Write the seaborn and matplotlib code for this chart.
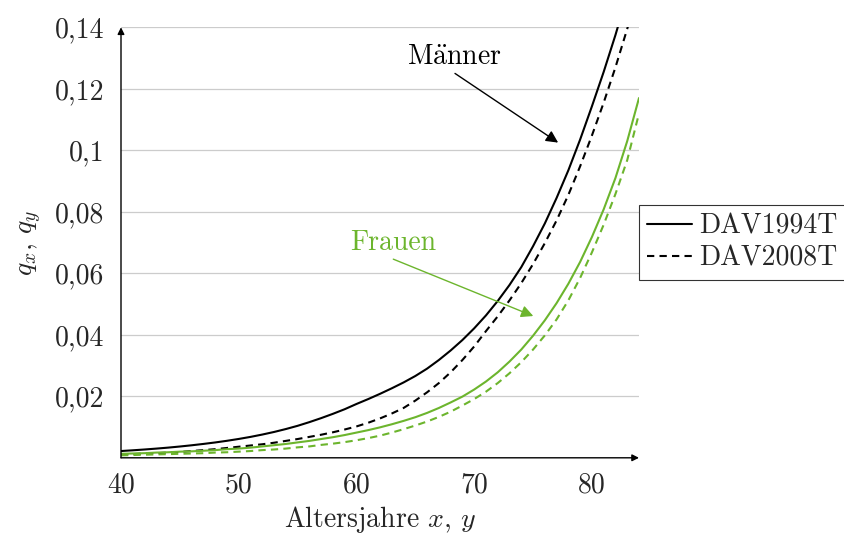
import numpy as np
import pandas as pd
import seaborn as sns
import matplotlib
matplotlib.use("Agg")
import matplotlib.pyplot as plt
from matplotlib.lines import Line2D

# Sterbewahrscheinlichkeiten q (Alter 40 bis 84)
alter = list(range(40, 85))

maenner_1994 = [0.00220, 0.00244, 0.00270, 0.00299, 0.00331, 0.00367, 0.00407, 0.00451, 0.00499, 0.00553,
                0.00613, 0.00680, 0.00756, 0.00840, 0.00935, 0.01040, 0.01160, 0.01290, 0.01430, 0.01580,
                0.01750, 0.01910, 0.02080, 0.02260, 0.02450, 0.02660, 0.02900, 0.03180, 0.03490, 0.03830,
                0.04210, 0.04630, 0.05100, 0.05620, 0.06200, 0.06880, 0.07620, 0.08450, 0.09350, 0.10350,
                0.11430, 0.12550, 0.13750, 0.15050, 0.16400]

maenner_2008 = [0.0011, 0.0012, 0.0014, 0.0015, 0.0017, 0.0019, 0.0022, 0.0025, 0.0028, 0.0032,
                0.0036, 0.0040, 0.0044, 0.0049, 0.0055, 0.0061, 0.0068, 0.0075, 0.0083, 0.0092,
                0.0102, 0.0114, 0.0128, 0.0144, 0.0162, 0.0186, 0.0213, 0.0243, 0.0278, 0.0318,
                0.0362, 0.0412, 0.0460, 0.0512, 0.0568, 0.0630, 0.0698, 0.0772, 0.0855, 0.0948,
                0.1048, 0.1155, 0.1270, 0.1395, 0.1530]

frauen_1994 = [0.0013, 0.0014, 0.0015, 0.0017, 0.0018, 0.0020, 0.0021, 0.0023, 0.0025, 0.0028,
               0.0030, 0.0033, 0.0037, 0.0041, 0.0045, 0.0050, 0.0055, 0.0061, 0.0067, 0.0074,
               0.0082, 0.0090, 0.0099, 0.0109, 0.0120, 0.0132, 0.0146, 0.0162, 0.0180, 0.0199,
               0.0222, 0.0248, 0.0278, 0.0313, 0.0352, 0.0397, 0.0447, 0.0503, 0.0566, 0.0637,
               0.0718, 0.0808, 0.0910, 0.1030, 0.1170]

frauen_2008 = [0.0008, 0.0009, 0.0010, 0.0011, 0.0012, 0.0013, 0.0014, 0.0015, 0.0017, 0.0018,
               0.0020, 0.0022, 0.0025, 0.0027, 0.0030, 0.0034, 0.0037, 0.0042, 0.0046, 0.0051,
               0.0057, 0.0064, 0.0072, 0.0082, 0.0093, 0.0105, 0.0118, 0.0133, 0.0150, 0.0170,
               0.0191, 0.0215, 0.0243, 0.0275, 0.0311, 0.0352, 0.0398, 0.0450, 0.0512, 0.0585,
               0.0668, 0.0758, 0.0858, 0.0968, 0.1120]

tafeln = ["DAV1994T", "DAV2008T"]
x_ticks = [40, 50, 60, 70, 80]
y_ticks = [0.02, 0.04, 0.06, 0.08, 0.10, 0.12, 0.14]
y_tick_labels = ["0,02", "0,04", "0,06", "0,08", "0,1", "0,12", "0,14"]

GRUEN = "#6cb52d"

frames = []
for geschlecht, tafel, werte in [("Männer", "DAV1994T", maenner_1994),
                                 ("Männer", "DAV2008T", maenner_2008),
                                 ("Frauen", "DAV1994T", frauen_1994),
                                 ("Frauen", "DAV2008T", frauen_2008)]:
    frames.append(pd.DataFrame({"alter": alter, "q": werte,
                                "geschlecht": geschlecht, "tafel": tafel}))
df = pd.concat(frames, ignore_index=True)

sns.set_style("white")
plt.rcParams["font.family"] = ["cmr10", "DejaVu Serif"]
plt.rcParams["mathtext.fontset"] = "cm"
plt.rcParams["axes.formatter.use_mathtext"] = True
FS = 20

fig = plt.figure(figsize=(8.45, 5.36), dpi=100)
ax = fig.add_axes([121 / 845, 1 - 457.8 / 536, 518 / 845, 430.5 / 536])

dash_pattern = (3.5, 2.5)
sns.lineplot(data=df, x="alter", y="q", hue="geschlecht", style="tafel",
             palette={"Männer": "black", "Frauen": GRUEN},
             dashes={"DAV1994T": "", "DAV2008T": dash_pattern},
             linewidth=1.5, legend=False, ax=ax, zorder=3)

ax.set_xlim(40, 84)
ax.set_ylim(0, 0.14)

ax.set_xticks(x_ticks)
ax.set_xticklabels([str(t) for t in x_ticks])
ax.set_yticks(y_ticks)
ax.set_yticklabels(y_tick_labels)
ax.tick_params(axis="both", direction="inout", length=8, width=0.8,
               color="#999999", labelsize=FS, pad=6)
ax.tick_params(axis="y", pad=8)

ax.yaxis.grid(True, color="#cccccc", linewidth=0.9, zorder=0)
ax.xaxis.grid(False)
for s in ax.spines.values():
    s.set_visible(False)

# Achsen mit Pfeilspitzen
arrow_kw = dict(arrowstyle="-|>", mutation_scale=10, lw=1.0, color="black",
                shrinkA=0, shrinkB=0)
ax.annotate("", xy=(1, 0), xytext=(0, 0), xycoords="axes fraction",
            textcoords="axes fraction", arrowprops=arrow_kw, zorder=4)
ax.annotate("", xy=(0, 1), xytext=(0, 0), xycoords="axes fraction",
            textcoords="axes fraction", arrowprops=arrow_kw, zorder=4)

ax.set_xlabel("Altersjahre $x$, $y$", fontsize=FS, labelpad=4)
ax.set_ylabel("$q_x$, $q_y$", fontsize=FS, labelpad=8)

# Beschriftung der Kurvenscharen
ax.text(68.28, 0.1279, r"M$\ddot{\mathrm{a}}$nner", fontsize=FS, ha="center",
        va="baseline", color="black")
ax.annotate("", xy=(77.13, 0.1025), xytext=(68.37, 0.1250),
            arrowprops=dict(arrowstyle="-|>", mutation_scale=18, lw=1.0,
                            color="black", shrinkA=0, shrinkB=0))
ax.text(63.13, 0.0676, "Frauen", fontsize=FS, ha="center", va="baseline",
        color=GRUEN)
ax.annotate("", xy=(75.02, 0.0461), xytext=(63.13, 0.0646),
            arrowprops=dict(arrowstyle="-|>", mutation_scale=18, lw=1.0,
                            color=GRUEN, shrinkA=0, shrinkB=0))

handles = [Line2D([], [], color="black", lw=1.5, linestyle="-"),
           Line2D([], [], color="black", lw=1.5, linestyle=(0, dash_pattern))]
leg = ax.legend(handles, tafeln, loc="center left", bbox_to_anchor=(1.0, 0.5),
                borderaxespad=0, frameon=True, fancybox=False, fontsize=FS,
                handlelength=1.6, handletextpad=0.25, labelspacing=0.2,
                borderpad=0.3)
leg.get_frame().set_edgecolor("black")
leg.get_frame().set_linewidth(0.8)

fig.savefig("out.png", dpi=100)
